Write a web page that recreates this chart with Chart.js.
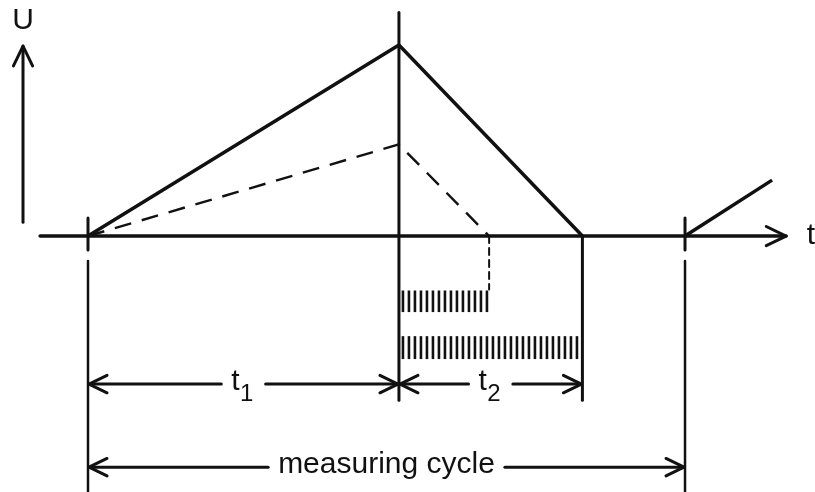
<!DOCTYPE html>
<html>
<head>
<meta charset="utf-8">
<script src="https://cdn.jsdelivr.net/npm/chart.js@4.4.0/dist/chart.umd.min.js"></script>
<style>
  html, body { margin: 0; padding: 0; background: #fff; }
  #wrap { width: 815px; height: 492px; }
</style>
</head>
<body>
<div id="wrap"><canvas id="dualSlope" width="815" height="492"></canvas></div>
<script>
// time axis (t) and voltage (U) values of the dual slope cycle
var rampTimes = [0, 10, 15.9];        // start, end of t1, end of t2 (large input)
var rampHigh = [0, 10, 0];
var smallTimes = [0, 10, 12.9];       // same cycle for a smaller input
var rampLow = [0, 4.8, 0];
var nextTimes = [19.2, 22.0];          // start of the next measuring cycle
var nextU = [0, 2.93];
var cycleLength = 19.2;

// labels
var axisLabels = ['U', 't'];
var spanLabels = ['t', 't', 'measuring cycle'];
var spanSubs = ['1', '2', ''];

var ink = '#111';
var ctx1 = document.getElementById('dualSlope').getContext('2d');

function line(ctx, x1, y1, x2, y2, w) {
    ctx.lineWidth = w;
    ctx.beginPath();
    ctx.moveTo(x1, y1);
    ctx.lineTo(x2, y2);
    ctx.stroke();
}

// open V arrow head pointing at (x, y) along direction (dx, dy)
function head(ctx, x, y, dx, dy, len, w) {
    var a = Math.atan2(dy, dx);
    var s = 0.45;
    ctx.lineWidth = w;
    ctx.beginPath();
    ctx.moveTo(x - len * Math.cos(a - s), y - len * Math.sin(a - s));
    ctx.lineTo(x, y);
    ctx.lineTo(x - len * Math.cos(a + s), y - len * Math.sin(a + s));
    ctx.stroke();
}

var diagramPlugin = {
    id: 'diagram',
    beforeDraw: function(chart) {
        var c = chart.ctx;
        c.save();
        c.fillStyle = '#fff';
        c.fillRect(0, 0, chart.width, chart.height);
        c.restore();
    },
    beforeDatasetsDraw: function(chart) {
        var c = chart.ctx;
        var X = function(v) { return chart.scales.x.getPixelForValue(v); };
        var Y = function(v) { return chart.scales.y.getPixelForValue(v); };
        c.save();
        c.strokeStyle = ink;
        c.fillStyle = ink;
        c.lineCap = 'round';
        c.lineJoin = 'round';

        // axes
        line(c, X(-2.09), Y(0.73), X(-2.09), Y(9.95), 3);
        head(c, X(-2.09), Y(9.95), 0, -1, 22, 3);
        line(c, X(-1.54), Y(0), X(22.45), Y(0), 3.5);
        head(c, X(22.45), Y(0), 1, 0, 22, 3);

        c.font = '30px "Liberation Sans", sans-serif';
        c.textAlign = 'center';
        c.textBaseline = 'middle';
        c.fillText(axisLabels[0], X(-2.09), Y(11.3));
        c.fillText(axisLabels[1], X(23.25), Y(0));

        // ticks at cycle start and end
        [0, cycleLength].forEach(function(t) {
            line(c, X(t), Y(0.95), X(t), Y(-0.73), 3);
            line(c, X(t), Y(-1.3), X(t), Y(-13.4), 2.5);
        });
        // end of integration, end of de-integration
        line(c, X(rampTimes[1]), Y(11.7), X(rampTimes[1]), Y(-8.6), 3);
        line(c, X(rampTimes[2]), Y(0), X(rampTimes[2]), Y(-8.6), 3);

        // dash-dot drop for the smaller input
        c.setLineDash([7, 5]);
        line(c, X(smallTimes[2]), Y(0), X(smallTimes[2]), Y(-2.8), 2);
        c.setLineDash([]);

        // counter pulses during t2
        c.lineCap = 'butt';
        var rows = [[smallTimes[2], -2.85, -3.98], [rampTimes[2], -5.24, -6.44]];
        rows.forEach(function(r) {
            var x0 = X(rampTimes[1]) + 4, x1 = X(r[0]) - 1;
            for (var px = x0; px <= x1; px += 6) {
                line(c, px, Y(r[1]), px, Y(r[2]), 2.6);
            }
        });
        c.lineCap = 'round';

        // dimension lines
        c.font = '30px "Liberation Sans", sans-serif';
        var spans = [
            [0, rampTimes[1], -7.75],
            [rampTimes[1], rampTimes[2], -7.75],
            [0, cycleLength, -12.1]
        ];
        spans.forEach(function(s, i) {
            var xa = X(s[0]), xb = X(s[1]), y = Y(s[2]);
            var txt = spanLabels[i];
            var subW = spanSubs[i] ? 16 : 0;
            var w = c.measureText(txt).width + subW;
            var mid = (xa + xb) / 2;
            var gap = 10;
            line(c, xa + 1, y, mid - w / 2 - gap, y, 3);
            line(c, mid + w / 2 + gap, y, xb - 1, y, 3);
            head(c, xa + 1, y, -1, 0, 20, 3);
            head(c, xb - 1, y, 1, 0, 20, 3);
            c.textAlign = 'left';
            c.fillText(txt, mid - w / 2, y - 2);
            if (spanSubs[i]) {
                c.font = '24px "Liberation Sans", sans-serif';
                c.fillText(spanSubs[i], mid - w / 2 + c.measureText(txt).width + 2, y + 10);
                c.font = '30px "Liberation Sans", sans-serif';
            }
        });
        c.restore();
    }
};

var chart = new Chart(ctx1, {
    type: 'scatter',
    data: {
        datasets: [
            {
                data: rampTimes.map(function(t, i) { return { x: t, y: rampHigh[i] }; }),
                showLine: true, borderColor: ink, borderWidth: 3.5, pointRadius: 0
            },
            {
                data: smallTimes.map(function(t, i) { return { x: t, y: rampLow[i] }; }),
                showLine: true, borderColor: ink, borderWidth: 2.4, pointRadius: 0,
                borderDash: [17, 11]
            },
            {
                data: nextTimes.map(function(t, i) { return { x: t, y: nextU[i] }; }),
                showLine: true, borderColor: ink, borderWidth: 3.5, pointRadius: 0
            }
        ]
    },
    options: {
        responsive: false,
        animation: false,
        devicePixelRatio: 1,
        layout: { padding: 0 },
        plugins: { legend: { display: false }, tooltip: { enabled: false } },
        scales: {
            x: { type: 'linear', display: false, min: -2.83, max: 23.38 },
            y: { type: 'linear', display: false, min: -13.4, max: 12.36 }
        }
    },
    plugins: [diagramPlugin]
});
</script>
</body>
</html>
